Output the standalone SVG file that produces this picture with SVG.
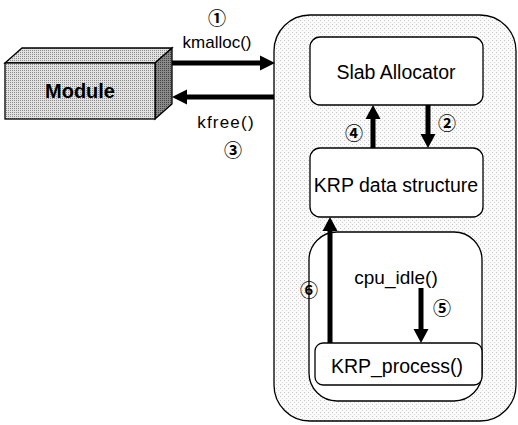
<svg xmlns="http://www.w3.org/2000/svg" width="518" height="425" viewBox="0 0 518 425">
<style>
.lbl{font-family:"Liberation Sans",Arial,sans-serif;fill:#000;text-anchor:middle}
.num{font-family:"Noto Sans CJK KR","DejaVu Sans",sans-serif;font-size:18px;font-weight:bold;fill:#000;text-anchor:middle}
.box{fill:#fff;stroke:#000;stroke-width:1.3}
.conn{stroke:#000;stroke-width:5;fill:none}
.head{fill:#000}
</style>
<defs>
<pattern id="dotsLight" width="4" height="4" patternUnits="userSpaceOnUse">
<rect width="4" height="4" fill="#fafafa"/>
<rect x="0" y="0" width="1" height="1" fill="#c8c8c8"/>
<rect x="2" y="2" width="1" height="1" fill="#d8d8d8"/>
</pattern>
<pattern id="dotsMed" width="2" height="2" patternUnits="userSpaceOnUse">
<rect width="2" height="2" fill="#e2e2e2"/>
<rect x="0" y="0" width="1" height="1" fill="#8a8a8a"/>
</pattern>
<pattern id="dotsDark" width="2" height="2" patternUnits="userSpaceOnUse">
<rect width="2" height="2" fill="#8a8a8a"/>
<rect x="0" y="0" width="1" height="1" fill="#444"/>
</pattern>
</defs>
<rect width="518" height="425" fill="#fff"/>

<g id="kernel">
<rect x="274" y="15" width="242" height="406" rx="36" fill="url(#dotsLight)" stroke="#000" stroke-width="1.3"/>
</g>

<g id="module">
<path d="M5,63 L22,48 L172,48 L155,63 Z" fill="url(#dotsMed)" stroke="#000" stroke-width="1.3"/>
<path d="M155,63 L172,48 L172,104 L155,119 Z" fill="url(#dotsDark)" stroke="#000" stroke-width="1.3"/>
<rect x="5" y="63" width="150" height="56" fill="url(#dotsMed)" stroke="#000" stroke-width="1.3"/>
<text class="lbl" x="80" y="98" font-size="20" font-weight="bold">Module</text>
</g>

<g id="slab">
<rect class="box" x="310" y="37" width="173" height="68" rx="10"/>
<text class="lbl" x="396" y="79" font-size="19.5">Slab Allocator</text>
</g>

<g id="krpdata">
<rect class="box" x="310" y="148" width="173" height="69" rx="10"/>
<text class="lbl" x="396" y="192" font-size="19.5">KRP data structure</text>
</g>

<g id="idle">
<rect class="box" x="309" y="232" width="173" height="169" rx="28"/>
<text class="lbl" x="396" y="284" font-size="19">cpu_idle()</text>
</g>

<g id="krpprocess">
<rect class="box" x="315" y="343" width="167" height="42" rx="8"/>
<text class="lbl" x="397" y="373" font-size="19.5">KRP_process()</text>
</g>

<g id="connectors">
<line class="conn" x1="172" y1="63" x2="262" y2="63"/>
<path class="head" d="M275,63 L260,55.5 L260,70.5 Z"/>
<line class="conn" x1="274" y1="97" x2="185" y2="97"/>
<path class="head" d="M172,97 L187,89.5 L187,104.5 Z"/>
<line class="conn" x1="373" y1="148" x2="373" y2="117"/>
<path class="head" d="M373,105 L365.5,119 L380.5,119 Z"/>
<line class="conn" x1="428" y1="105" x2="428" y2="136"/>
<path class="head" d="M428,148 L420.5,134 L435.5,134 Z"/>
<line class="conn" x1="330" y1="343" x2="330" y2="229"/>
<path class="head" d="M330,217 L322.5,231 L337.5,231 Z"/>
<line class="conn" x1="421" y1="288" x2="421" y2="331"/>
<path class="head" d="M421,343 L413.5,329 L428.5,329 Z"/>
<text class="lbl" x="217" y="48" font-size="17">kmalloc()</text>
<text class="lbl" x="226" y="128" font-size="17" letter-spacing="1.2">kfree()</text>
<text class="num" x="217" y="25">①</text>
<text class="num" x="447" y="130">②</text>
<text class="num" x="233" y="157">③</text>
<text class="num" x="354" y="140">④</text>
<text class="num" x="442" y="315">⑤</text>
<text class="num" x="309" y="297">⑥</text>
</g>
</svg>
